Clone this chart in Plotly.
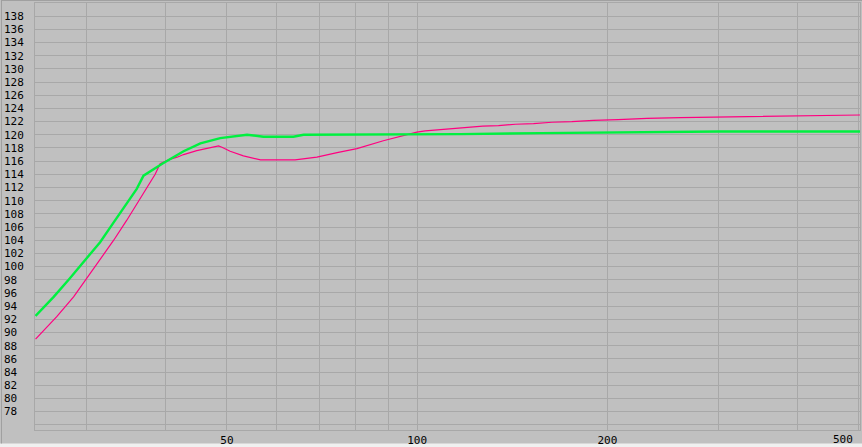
import plotly.graph_objects as go
import math

# frequency (Hz) / level (dB)
green_freq = [24.9, 26.6, 28.2, 29.8, 31.5, 33.1, 34.7, 36.0, 36.9, 39.5, 42.7, 45.4,
              48.8, 51.2, 53.8, 55.1, 57.1, 60.0, 63.7, 66.1, 90.0, 117.0, 157.0, 228.0, 300.0, 502.0]
green_level = [92.5, 95.4, 98.2, 100.9, 103.7, 106.7, 109.5, 111.8, 113.8, 115.6, 117.5, 118.7,
               119.5, 119.8, 120.0, 119.9, 119.7, 119.7, 119.7, 120.0, 120.0, 120.1, 120.25, 120.45, 120.5, 120.5]

pink_freq = [24.9, 26.9, 28.6, 30.0, 31.5, 33.1, 34.7, 36.0, 37.6, 38.5, 39.2, 40.7, 41.7,
             42.7, 44.8, 46.5, 48.5, 49.1, 50.6, 53.1, 56.5, 64.1, 69.4, 74.7, 80.3, 88.4,
             97.5, 99.9, 103.0, 108.5, 114.2, 119.9, 127.0, 134.5, 143.0, 152.8, 163.4,
             175.7, 190.0, 208.0, 231.0, 261.0, 305.0, 378.0, 502.0]
pink_level = [89.0, 92.4, 95.4, 98.2, 100.9, 104.0, 107.0, 109.5, 112.5, 114.0, 115.6, 116.3, 116.6,
              117.0, 117.6, 117.95, 118.3, 118.1, 117.5, 116.8, 116.2, 116.2, 116.6, 117.3, 117.9, 119.1,
              120.2, 120.4, 120.6, 120.8, 121.0, 121.1, 121.3, 121.4, 121.6, 121.7, 121.9,
              122.0, 122.2, 122.3, 122.5, 122.6, 122.7, 122.9, 123.0]

x_grid = [30, 40, 50, 60, 70, 80, 90, 100, 200, 300, 400, 500]
x_labels = ["", "", "50", "", "", "", "", "100", "200", "", "", ""]
last_label = "500"  # sits flush against the right edge, drawn as an annotation
y_grid = list(range(76, 140, 2))
y_labels = [""] + [str(v) + ("\u00a0" if v < 100 else "") for v in y_grid[1:]]

fig = go.Figure()
fig.add_trace(go.Scatter(x=pink_freq, y=pink_level, mode="lines",
                         line=dict(color="#ff0080", width=1.2)))
fig.add_trace(go.Scatter(x=green_freq, y=green_level, mode="lines",
                         line=dict(color="#00f040", width=2.4)))

fig.add_annotation(x=math.log10(x_grid[-1]), xref="x", y=0, yref="paper",
                   text=last_label, showarrow=False, xanchor="right", yanchor="top",
                   xshift=-4, yshift=-1, font=dict(family="DejaVu Sans Mono", size=11, color="#000000"))

fig.update_layout(
    width=862, height=447,
    margin=dict(l=35, r=2, t=3, b=17),
    paper_bgcolor="#c0c0c0",
    plot_bgcolor="#c0c0c0",
    showlegend=False,
    font=dict(family="DejaVu Sans Mono", size=11, color="#000000"),
    shapes=[
        dict(type="rect", xref="paper", yref="paper", x0=-0.1, x1=1.1,
             y0=-0.0316, y1=-0.06, fillcolor="#f0f0f0", line=dict(width=0), layer="below"),
        dict(type="line", xref="paper", yref="paper", x0=-0.0406, x1=-0.0406,
             y0=-0.0316, y1=1.01, line=dict(color="#a0a0a0", width=1)),
        dict(type="line", xref="paper", yref="paper", x0=-0.0406, x1=1.01,
             y0=1.0058, y1=1.0058, line=dict(color="#a0a0a0", width=1)),
    ],
)
fig.update_xaxes(type="log", range=[math.log10(24.85), math.log10(502)],
                 tickvals=x_grid, ticktext=x_labels, ticks="",
                 showgrid=True, gridcolor="#a8a8a8", gridwidth=1,
                 showline=True, linecolor="#a8a8a8", mirror=True,
                 zeroline=False, ticklabelstandoff=0, automargin=False)
fig.update_yaxes(range=[75.2, 140], tickvals=y_grid, ticktext=y_labels, ticks="",
                 showgrid=True, gridcolor="#a8a8a8", gridwidth=1,
                 showline=True, linecolor="#a8a8a8", mirror=True,
                 zeroline=False, ticklabelstandoff=8, automargin=False)

# page body has a default 8px margin; drop it so the figure fills the window
fig.write_html("out.html", config={"displayModeBar": False},
               post_script="document.body.style.margin='0';document.body.style.overflow='hidden';")
